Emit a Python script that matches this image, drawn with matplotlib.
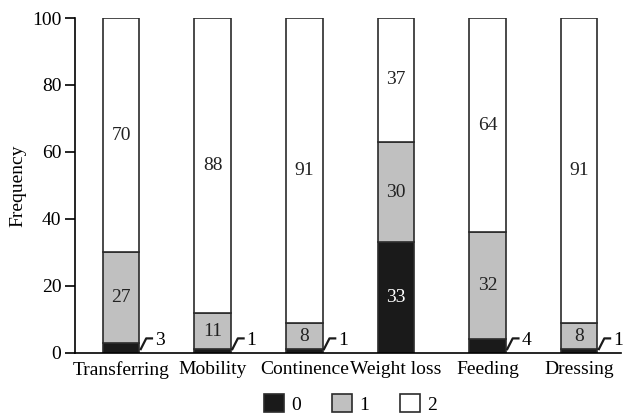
import numpy as np
from matplotlib import pyplot as plt
from matplotlib.patches import Patch

categories = ['Transferring', 'Mobility', 'Continence', 'Weight loss', 'Feeding', 'Dressing']
score0 = [3, 1, 1, 33, 4, 1]
score1 = [27, 11, 8, 30, 32, 8]
score2 = [70, 88, 91, 37, 64, 91]
legend_labels = ['0', '1', '2']

plt.rcParams['font.family'] = ['Liberation Serif', 'DejaVu Serif']
plt.rcParams['font.size'] = 13

fig = plt.figure(figsize=(6.32, 4.19), dpi=100)
ax = fig.add_axes([0.119, 0.158, 0.864, 0.799])

x = np.arange(len(categories))
w = 0.4
edge = '#2b2b2b'
colors = ['#1a1a1a', '#c0c0c0', 'white']

b0 = ax.bar(x, score0, w, color=colors[0], edgecolor=edge, linewidth=1.2)
b1 = ax.bar(x, score1, w, bottom=score0, color=colors[1], edgecolor=edge, linewidth=1.2)
bottom2 = np.array(score0) + np.array(score1)
b2 = ax.bar(x, score2, w, bottom=bottom2, color=colors[2], edgecolor=edge, linewidth=1.2)

# labels inside segments
for i in range(len(categories)):
    # score 0: inside if large, leader line if small
    if score0[i] >= 10:
        ax.text(x[i], score0[i] / 2, str(score0[i]), ha='center', va='center',
                color='white', fontsize=14)
    else:
        xe = x[i] + w / 2
        ax.plot([xe + 0.01, xe + 0.075, xe + 0.15], [0.8, 4.3, 4.3],
                color='#1a1a1a', lw=1.6, solid_capstyle='butt', clip_on=False)
        ax.text(xe + 0.17, 3.6, str(score0[i]), ha='left', va='center', fontsize=14)
    ax.text(x[i], score0[i] + score1[i] / 2, str(score1[i]), ha='center', va='center',
            fontsize=14, color='#222222')
    ax.text(x[i], bottom2[i] + score2[i] / 2, str(score2[i]), ha='center', va='center',
            fontsize=14, color='#222222')

ax.set_xlim(-0.5, 5.46)
ax.set_ylim(0, 100)
ax.set_yticks([0, 20, 40, 60, 80, 100])
ax.set_xticks(x)
ax.set_xticklabels(categories, fontsize=14)
ax.tick_params(axis='x', length=0, pad=6)
ax.tick_params(axis='y', direction='out', length=7, width=1.2, labelsize=14, pad=3)
ax.spines['top'].set_visible(False)
ax.spines['right'].set_visible(False)
ax.spines['left'].set_linewidth(1.2)
ax.spines['bottom'].set_linewidth(1.2)
ax.set_ylabel('Frequency', fontsize=14, labelpad=4)

handles = [Patch(facecolor=c, edgecolor=edge, linewidth=1.2) for c in colors]
fig.legend(handles, legend_labels, loc='center', bbox_to_anchor=(0.555, 0.036), ncol=3,
           frameon=False, handlelength=1.0, handleheight=1.0, handletextpad=0.4,
           columnspacing=1.6, fontsize=14)

plt.savefig('out.png', dpi=100)
